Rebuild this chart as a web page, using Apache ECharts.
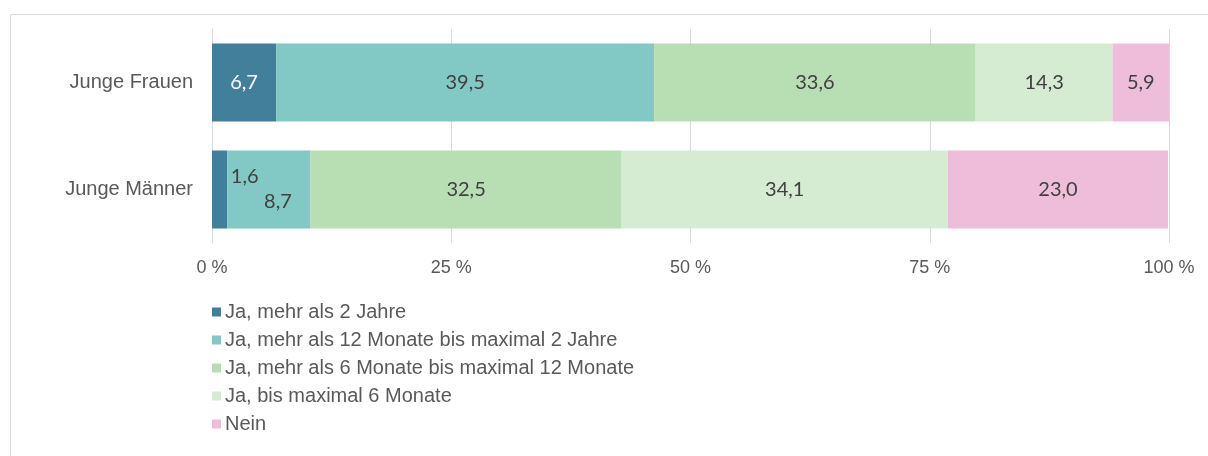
<!DOCTYPE html>
<html>
<head>
<meta charset="utf-8">
<script src="https://cdn.jsdelivr.net/npm/echarts@6/dist/echarts.min.js"></script>
<style>
html,body{margin:0;padding:0;background:#fff;}
#chart{width:1208px;height:456px;}
</style>
</head>
<body>
<div id="chart"></div>
<script>
// Gruppen und Antworten
var kategorien = ['Junge Frauen', 'Junge Männer'];
var serienNamen = [
	'Ja, mehr als 2 Jahre',
	'Ja, mehr als 12 Monate bis maximal 2 Jahre',
	'Ja, mehr als 6 Monate bis maximal 12 Monate',
	'Ja, bis maximal 6 Monate',
	'Nein'
];
var mehrAls2Jahre = [6.7, 1.6];
var mehrAls12Monate = [39.5, 8.7];
var mehrAls6Monate = [33.6, 32.5];
var bisMax6Monate = [14.3, 34.1];
var nein = [5.9, 23.0];
var achsenTicks = [0, 25, 50, 75, 100];

var farben = ['#427f9b', '#82c8c5', '#b8dfb4', '#d5ecd3', '#edbdda'];
var werte = [mehrAls2Jahre, mehrAls12Monate, mehrAls6Monate, bisMax6Monate, nein];

function komma(v) {
	return v.toFixed(1).replace('.', ',');
}

// Sonderpositionen fuer die schmalen Segmente bei den jungen Maennern
var labelVersatz = {
	'0_1': [25, -13],
	'1_1': [9, 12]
};

var serien = [];
for (var s = 0; s < serienNamen.length; s++) {
	var daten = [];
	for (var k = 0; k < kategorien.length; k++) {
		var punkt = { value: werte[s][k] };
		var off = labelVersatz[s + '_' + k];
		if (off) {
			punkt.label = { offset: off, color: '#404040' };
		}
		daten.push(punkt);
	}
	serien.push({
		name: serienNamen[s],
		type: 'bar',
		stack: 'gesamt',
		barWidth: 78,
		itemStyle: { color: farben[s] },
		label: {
			show: true,
			position: 'inside',
			color: s == 0 ? '#ffffff' : '#404040',
			fontFamily: 'Lato, "Open Sans", sans-serif',
			fontSize: 20,
			formatter: function (p) { return komma(p.value); }
		},
		emphasis: { disabled: true },
		data: daten
	});
}

var chart = echarts.init(document.getElementById('chart'));
var option = {
	animation: false,
	textStyle: { fontFamily: '"Liberation Sans", Arial, sans-serif' },
	graphic: [{
		type: 'rect',
		shape: { x: 10.5, y: 14.5, width: 1300, height: 500 },
		style: { fill: 'none', stroke: '#d9d9d9', lineWidth: 1 },
		silent: true
	}],
	grid: { left: 212, right: 39, top: 29, bottom: 213 },
	legend: {
		orient: 'vertical',
		left: 207,
		top: 297,
		itemWidth: 9,
		itemHeight: 9,
		itemGap: 8,
		icon: 'rect',
		selectedMode: false,
		data: serienNamen,
		textStyle: {
			color: '#595959',
			fontSize: 20,
			lineHeight: 18,
			padding: [0, 0, 0, -1]
		}
	},
	xAxis: {
		type: 'value',
		min: achsenTicks[0],
		max: achsenTicks[achsenTicks.length - 1],
		interval: 25,
		axisLine: { show: false },
		axisTick: { show: false },
		splitLine: { lineStyle: { color: '#d9d9d9', width: 1 } },
		axisLabel: {
			color: '#595959',
			fontSize: 18,
			margin: 16,
			formatter: '{value} %'
		}
	},
	yAxis: {
		type: 'category',
		inverse: true,
		data: kategorien,
		axisLine: { show: true, lineStyle: { color: '#d9d9d9' } },
		axisTick: { show: false },
		axisLabel: { color: '#595959', fontSize: 20, margin: 19 }
	},
	series: serien
};
chart.setOption(option);
</script>
</body>
</html>
